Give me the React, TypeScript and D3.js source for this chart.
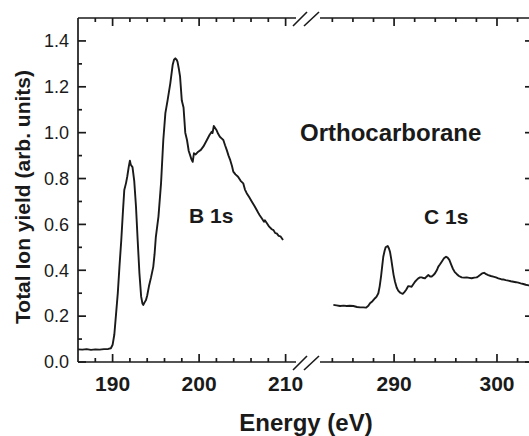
import React from "react";
import * as d3 from "d3";

const b1sEnergy = [186.0,186.5,187.0,187.5,188.0,188.5,189.0,189.5,189.8,190.0,190.2,190.4,190.6,190.8,191.0,191.2,191.35,191.55,191.7,191.86,192.0,192.1,192.3,192.5,192.7,192.9,193.1,193.3,193.45,193.55,193.7,193.86,194.0,194.2,194.45,194.7,194.85,195.0,195.3,195.6,195.86,196.1,196.35,196.67,196.94,197.1,197.25,197.4,197.5,197.65,197.8,198.0,198.2,198.4,198.6,198.8,198.95,199.1,199.26,199.4,199.6,199.9,200.2,200.5,200.9,201.2,201.45,201.55,201.7,202.0,202.2,202.4,202.6,202.8,203.0,203.2,203.4,203.6,203.8,203.95,204.2,204.5,204.8,205.1,205.3,205.5,205.8,206.1,206.4,206.66,206.9,207.0,207.24,207.5,207.6,207.8,208.1,208.4,208.6,208.8,208.97,209.2,209.4,209.7];
const b1sYield = [0.055,0.054,0.056,0.053,0.055,0.054,0.056,0.057,0.060,0.075,0.12,0.21,0.30,0.42,0.53,0.66,0.75,0.78,0.81,0.85,0.878,0.86,0.85,0.79,0.68,0.53,0.387,0.285,0.255,0.249,0.26,0.27,0.29,0.33,0.37,0.415,0.47,0.546,0.634,0.78,0.968,1.085,1.14,1.215,1.295,1.318,1.324,1.318,1.31,1.28,1.244,1.14,1.11,1.0,0.968,0.92,0.903,0.885,0.873,0.91,0.905,0.917,0.925,0.94,0.968,0.99,1.004,0.998,1.029,1.012,0.995,0.982,0.975,0.968,0.945,0.924,0.9,0.88,0.855,0.83,0.818,0.808,0.79,0.779,0.752,0.736,0.718,0.699,0.68,0.663,0.646,0.64,0.627,0.612,0.618,0.607,0.59,0.579,0.575,0.562,0.561,0.55,0.548,0.532];

const c1sEnergy = [284.1,284.4,284.75,285.1,285.4,285.7,286.04,286.4,286.7,287.0,287.27,287.5,287.66,287.9,288.15,288.3,288.47,288.6,288.73,288.85,288.95,289.08,289.18,289.38,289.5,289.6,289.72,289.83,289.95,290.09,290.25,290.4,290.6,290.84,291.0,291.16,291.38,291.55,291.7,291.85,292.03,292.2,292.35,292.52,292.68,292.85,293.0,293.15,293.33,293.5,293.66,293.8,293.98,294.15,294.3,294.45,294.63,294.85,295.05,295.2,295.37,295.55,295.7,295.9,296.08,296.3,296.57,296.8,297.06,297.3,297.54,297.8,298.03,298.2,298.35,298.55,298.74,298.95,299.15,299.4,299.64,299.9,300.13,300.4,300.6,300.85,301.1,301.35,301.6,301.85,302.07,302.3,302.56,302.8,303.1,303.5];
const c1sYield = [0.249,0.247,0.244,0.246,0.244,0.245,0.244,0.24,0.238,0.238,0.237,0.245,0.256,0.265,0.278,0.285,0.3,0.33,0.372,0.42,0.459,0.485,0.5,0.506,0.495,0.481,0.45,0.416,0.38,0.35,0.325,0.311,0.302,0.297,0.305,0.314,0.331,0.33,0.328,0.338,0.35,0.358,0.365,0.369,0.369,0.366,0.365,0.372,0.379,0.373,0.373,0.378,0.387,0.4,0.416,0.425,0.437,0.452,0.459,0.455,0.445,0.425,0.408,0.392,0.384,0.375,0.369,0.368,0.369,0.367,0.365,0.368,0.369,0.374,0.379,0.386,0.389,0.383,0.379,0.375,0.372,0.369,0.365,0.361,0.36,0.357,0.355,0.352,0.35,0.348,0.346,0.343,0.34,0.337,0.334,0.33];

const leftDomain = [186, 211.2];
const rightDomain = [282.8, 303.5];
const yDomain = [0, 1.5];
const leftMajorTicks = [190, 200, 210];
const leftMinorTicks = [188, 192, 194, 196, 198, 202, 204, 206, 208];
const rightMajorTicks = [290, 300];
const rightMinorTicks = [284, 286, 288, 292, 294, 296, 298, 302];
const yMajorTicks = [0, 0.2, 0.4, 0.6, 0.8, 1.0, 1.2, 1.4];
const yMinorTicks = [0.1, 0.3, 0.5, 0.7, 0.9, 1.1, 1.3];

const W = 529, H = 436;
const plotLeft = 78, plotRight = 533, plotTop = 18, plotBottom = 362;
const breakL = 296, breakR = 320;
const FONT = "'Liberation Sans', Arial, Helvetica, sans-serif";
const INK = "#1a1a1a";

export default function App() {
  const xL = d3.scaleLinear().domain(leftDomain).range([plotLeft, breakL]);
  const xR = d3.scaleLinear().domain(rightDomain).range([breakR, plotRight]);
  const y = d3.scaleLinear().domain(yDomain).range([plotBottom, plotTop]);

  const b1s = b1sEnergy.map((e, i) => [e, b1sYield[i]] as [number, number]);
  const c1s = c1sEnergy.map((e, i) => [e, c1sYield[i]] as [number, number]);
  const lineL = d3.line<[number, number]>().x(d => xL(d[0])).y(d => y(d[1]));
  const lineR = d3.line<[number, number]>().x(d => xR(d[0])).y(d => y(d[1]));

  const major = 8, minor = 4;
  const sw = 1.7;

  const xTicks = (scale: any, ticks: number[], len: number) =>
    ticks.map(t => (
      <g key={"x" + t + "-" + len}>
        <line x1={scale(t)} x2={scale(t)} y1={plotBottom} y2={plotBottom - len} stroke={INK} strokeWidth={sw} />
        <line x1={scale(t)} x2={scale(t)} y1={plotTop} y2={plotTop + len} stroke={INK} strokeWidth={sw} />
      </g>
    ));

  const yTicks = (ticks: number[], len: number) =>
    ticks.map(t => (
      <g key={"y" + t + "-" + len}>
        <line x1={plotLeft} x2={plotLeft + len} y1={y(t)} y2={y(t)} stroke={INK} strokeWidth={sw} />
        <line x1={plotRight} x2={plotRight - len} y1={y(t)} y2={y(t)} stroke={INK} strokeWidth={sw} />
      </g>
    ));

  const slashes = (yy: number) => (
    <g>
      <line x1={breakL - 3} y1={yy + 8} x2={breakL + 11} y2={yy - 6} stroke={INK} strokeWidth={1.6} />
      <line x1={breakL + 8} y1={yy + 8} x2={breakL + 23} y2={yy - 6} stroke={INK} strokeWidth={1.6} />
    </g>
  );

  return (
    <svg width={W} height={H} style={{ position: "absolute", left: 0, top: 0, background: "#fff" }}>
      <rect x={0} y={0} width={W} height={H} fill="#fff" />
      <line x1={plotLeft} x2={plotLeft} y1={plotTop} y2={plotBottom} stroke={INK} strokeWidth={sw} />
      <line x1={plotRight} x2={plotRight} y1={plotTop} y2={plotBottom} stroke={INK} strokeWidth={sw} />
      <line x1={plotLeft} x2={breakL} y1={plotTop} y2={plotTop} stroke={INK} strokeWidth={sw} />
      <line x1={breakR} x2={plotRight} y1={plotTop} y2={plotTop} stroke={INK} strokeWidth={sw} />
      <line x1={plotLeft} x2={breakL} y1={plotBottom} y2={plotBottom} stroke={INK} strokeWidth={sw} />
      <line x1={breakR} x2={plotRight} y1={plotBottom} y2={plotBottom} stroke={INK} strokeWidth={sw} />
      {slashes(plotTop)}
      {slashes(plotBottom)}
      {xTicks(xL, leftMajorTicks, major)}
      {xTicks(xL, leftMinorTicks, minor)}
      {xTicks(xR, rightMajorTicks, major)}
      {xTicks(xR, rightMinorTicks, minor)}
      {yTicks(yMajorTicks, major)}
      {yTicks(yMinorTicks, minor)}
      {yMajorTicks.map(t => (
        <text key={"yl" + t} x={69} y={y(t)} dy="0.35em" textAnchor="end" fontFamily={FONT} fontSize={18} fill={INK}>
          {t.toFixed(1)}
        </text>
      ))}
      {leftMajorTicks.map(t => (
        <text key={"xl" + t} x={xL(t)} y={391} textAnchor="middle" fontFamily={FONT} fontSize={21} fontWeight="bold" fill={INK}>
          {t}
        </text>
      ))}
      {rightMajorTicks.map(t => (
        <text key={"xr" + t} x={xR(t)} y={391} textAnchor="middle" fontFamily={FONT} fontSize={21} fontWeight="bold" fill={INK}>
          {t}
        </text>
      ))}
      <path d={lineL(b1s) || ""} fill="none" stroke={INK} strokeWidth={1.9} strokeLinejoin="round" />
      <path d={lineR(c1s) || ""} fill="none" stroke={INK} strokeWidth={1.9} strokeLinejoin="round" />
      <text x={300} y={141} fontFamily={FONT} fontSize={24} fontWeight="bold" fill={INK}>Orthocarborane</text>
      <text x={189} y={223} fontFamily={FONT} fontSize={21} fontWeight="bold" fill={INK}>B 1s</text>
      <text x={424} y={224} fontFamily={FONT} fontSize={21} fontWeight="bold" fill={INK}>C 1s</text>
      <text x={306} y={431} textAnchor="middle" fontFamily={FONT} fontSize={24} fontWeight="bold" fill={INK}>Energy (eV)</text>
      <text transform="translate(23,197) rotate(-90)" textAnchor="middle" dy="0.35em" fontFamily={FONT} fontSize={21} fontWeight="bold" fill={INK}>
        Total Ion yield (arb. units)
      </text>
    </svg>
  );
}
